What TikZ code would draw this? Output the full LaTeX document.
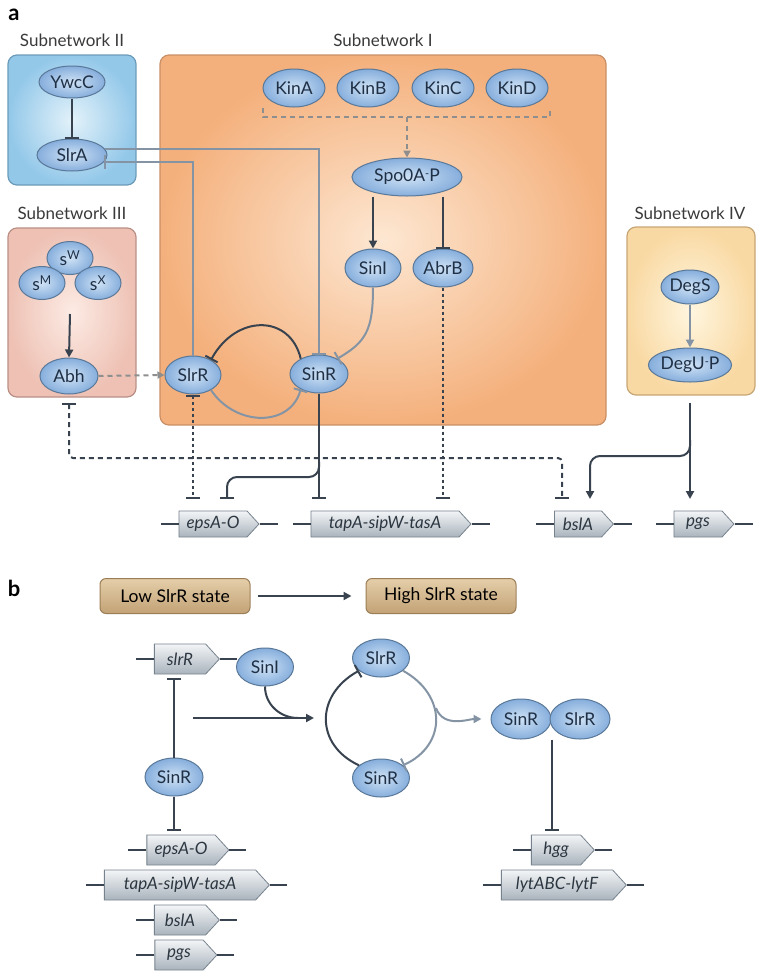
\documentclass[tikz,border=0pt]{standalone}
\usepackage{fontspec}
\setmainfont{Lato}
\usepackage{tikz}
\usetikzlibrary{shapes.geometric}
\usetikzlibrary{shapes.symbols}
\usetikzlibrary{arrows.meta}

\definecolor{protin}{HTML}{CFE2F5}
\definecolor{protout}{HTML}{86AEDC}
\definecolor{protedge}{HTML}{5A7898}
\definecolor{prottext}{HTML}{1F2F44}
\definecolor{genetop}{HTML}{F3F5F7}
\definecolor{genebot}{HTML}{A9B3BC}
\definecolor{geneedge}{HTML}{76828D}
\definecolor{genetext}{HTML}{2C3640}
\definecolor{linedark}{HTML}{38434F}
\definecolor{linegray}{HTML}{8494A4}
\definecolor{dashgray}{HTML}{8E8E8E}
\definecolor{oneA}{HTML}{FDE7D2}
\definecolor{oneB}{HTML}{F4B07C}
\definecolor{oneE}{HTML}{C98F66}
\definecolor{twoA}{HTML}{E3F2FA}
\definecolor{twoB}{HTML}{93C8E9}
\definecolor{twoE}{HTML}{6C9BBA}
\definecolor{threeA}{HTML}{FCEBE4}
\definecolor{threeB}{HTML}{EEC1B4}
\definecolor{threeE}{HTML}{B98F86}
\definecolor{fourA}{HTML}{FFF6DF}
\definecolor{fourB}{HTML}{F9D9A3}
\definecolor{fourE}{HTML}{C7A676}
\definecolor{statetop}{HTML}{E4CEA9}
\definecolor{statebot}{HTML}{C3A276}
\definecolor{stateedge}{HTML}{9B7E56}
\definecolor{titletext}{HTML}{3A3A3A}

\begin{document}
\begin{tikzpicture}[x=1pt,y=-1pt,line width=2pt,
  font=\fontsize{17.5}{19}\selectfont,
  prot/.style={ellipse,draw=protedge,line width=1pt,inner color=protin,outer color=protout,
    text=prottext,inner sep=0pt},
  gene/.style={signal,signal to=east,signal pointer angle=95,draw=geneedge,line width=0.8pt,
    top color=genetop,bottom color=genebot,minimum height=27pt,inner sep=0pt,
    font=\fontsize{17}{19}\selectfont\itshape,text=genetext},
  stub/.style={draw=linedark,line width=2pt},
  netbox/.style={rounded corners=9pt,line width=1.2pt},
  nettitle/.style={text=titletext,font=\fontsize{17}{19}\selectfont},
  statebox/.style={rectangle,rounded corners=6pt,draw=stateedge,line width=1pt,
    top color=statetop,bottom color=statebot,minimum width=150pt,minimum height=35pt},
  act/.style={draw=linedark,-{Triangle[length=8pt,width=8pt]}},
  inh/.style={draw=linedark,-{Bar[width=14pt]}},
  actgray/.style={draw=linegray,-{Triangle[length=8pt,width=8pt]}},
  inhgray/.style={draw=linegray,-{Bar[width=14pt]}},
  kindash/.style={draw=dashgray,dash pattern=on 5pt off 4pt},
  dashinh/.style={draw=linedark,dash pattern=on 5pt off 4pt},
  dotinh/.style={draw=linedark,dash pattern=on 3pt off 3pt}]
\useasboundingbox (0,0) rectangle (763,975);

% ---- panel a ----
\node[font=\fontsize{22}{22}\selectfont\bfseries] (laba) at (14,15) {a};

\path[netbox,draw=twoE,inner color=twoA,outer color=twoB] (8,55) rectangle (136,185);
\path[netbox,draw=oneE,inner color=oneA,outer color=oneB] (160,55) rectangle (606,425);
\path[netbox,draw=threeE,inner color=threeA,outer color=threeB] (8,228) rectangle (136,397);
\path[netbox,draw=fourE,inner color=fourA,outer color=fourB] (627,227) rectangle (755,395);

\node[nettitle] (tii) at (72,40) {Subnetwork II};
\node[nettitle] (ti) at (383,40) {Subnetwork I};
\node[nettitle] (tiii) at (72,213) {Subnetwork III};
\node[nettitle] (tiv) at (690,213) {Subnetwork IV};

\node[prot,minimum width=66pt,minimum height=32pt] (ywcc) at (72,82) {YwcC};
\node[prot,minimum width=70pt,minimum height=32pt] (slra) at (72,155) {SlrA};
\foreach \x/\k in {294/A,368/B,443/C,517/D}
  \node[prot,minimum width=62pt,minimum height=38pt] (kin\k) at (\x,88) {Kin\k};
\node[prot,minimum width=110pt,minimum height=38pt] (spo) at (407,177)
  {Spo0A{\fontsize{11}{11}\selectfont\raisebox{0.7ex}{-}}P};
\node[prot,minimum width=56pt,minimum height=38pt] (sini) at (373,268) {SinI};
\node[prot,minimum width=60pt,minimum height=38pt] (abrb) at (443,268) {AbrB};
\node[prot,minimum width=56pt,minimum height=38pt] (slrr) at (193,375) {SlrR};
\node[prot,minimum width=58pt,minimum height=38pt] (sinr) at (319,374) {SinR};
\node[prot,minimum width=46pt,minimum height=33pt] (sigw) at (70,258) {s\textsuperscript{W}};
\node[prot,minimum width=46pt,minimum height=33pt] (sigm) at (42,283) {s\textsuperscript{M}};
\node[prot,minimum width=46pt,minimum height=33pt] (sigx) at (98,283) {s\textsuperscript{X}};
\node[prot,minimum width=58pt,minimum height=36pt] (abh) at (69,376) {Abh};
\node[prot,minimum width=58pt,minimum height=34pt] (degs) at (690,287) {DegS};
\node[prot,minimum width=76pt,minimum height=34pt] (degu) at (690,365)
  {DegU{\fontsize{11}{11}\selectfont\raisebox{0.7ex}{-}}P};

\node[gene,minimum width=80pt,minimum height=26pt] (epsa) at (213,524) {epsA-O};
\node[gene,minimum width=160pt,minimum height=26pt] (tapa) at (385,524) {tapA-sipW-tasA};
\node[gene,minimum width=59pt,minimum height=26pt] (bsla) at (578,524) {bslA};
\node[gene,minimum width=60pt,minimum height=26pt] (pgsa) at (698,524) {pgs};

\coordinate (rowa) at (0,499);
\coordinate (kinl) at (263,117);
\coordinate (kinr) at (550,117);
\coordinate (abhturn) at (562,458);
\coordinate (sinrbr) at (319,462);
\coordinate (degbr) at (690,440);

\draw[inh] (ywcc.south) -- (slra.north);
\draw[kindash] (263,108) -- (kinl) -- (kinr) -- (550,108);
\draw[kindash,-{Triangle[length=7pt,width=7pt]}] (spo |- kinl) -- (spo.north);
\draw[act] (sini |- spo.south) -- (sini.north);
\draw[inh] (abrb |- spo.south) -- (abrb.north);
\draw[inhgray] (sini.south) .. controls (373,330) and (366,342) .. (sinr.40);
\draw[inhgray] (slra.10) -| (sinr.north);
\draw[inhgray] (slrr.north) |- (slra.-12);
\draw[act] ([yshift=-14pt]sigw |- sigm.south) -- (abh.north);
\draw[kindash,-{Triangle[length=7pt,width=7pt]}] (abh.east) -- (slrr.west);
\draw[inh] (sinr.140) .. controls (290,314) and (236,314) .. (slrr.40);
\draw[inhgray] (slrr.-40) .. controls (236,427) and (290,427) .. (sinr.-140);
\draw[actgray] (degs.south) -- (degu.north);

% to the genes
\draw[dotinh,{Bar[width=14pt]}-{Bar[width=14pt]}] (slrr.south) -- (slrr |- rowa);
\draw[dotinh,-{Bar[width=14pt]}] (abrb.south) -- (abrb |- rowa);
\draw[dashinh,{Bar[width=14pt]}-{Bar[width=14pt]},rounded corners=4pt]
  ([yshift=-8pt]abh.south) |- (abhturn) -- (abhturn |- rowa);
\draw[inh] (sinr.south) -- (sinr |- rowa);
\draw[inh,rounded corners=10pt] (sinrbr) -- (319,477) -- (227,477) -- (227,499);
\draw[act] ([yshift=-20pt]degu.south) -- (degu |- rowa);
\draw[act,rounded corners=10pt] (degbr) -- (690,456) -- (590,456) -- (590,499);

\foreach \g in {epsa,tapa,bsla,pgsa}
  \draw[stub] (\g.west) -- ++(-18,0) (\g.east) -- ++(18,0);

% ---- panel b ----
\node[font=\fontsize{22}{22}\selectfont\bfseries] (labb) at (14,588) {b};

\node[statebox] (low) at (175,596) {Low SlrR state};
\node[statebox] (high) at (441,596) {High SlrR state};
\draw[act,shorten <=7pt,shorten >=14pt] (low.east) -- (high.west);

\node[gene,minimum width=65pt,minimum height=30pt] (slrrg) at (180,659) {slrR};
\node[prot,minimum width=57pt,minimum height=38pt] (sini2) at (265,667) {SinI};
\node[prot,minimum width=57pt,minimum height=38pt] (slrr2) at (381,658) {SlrR};
\node[prot,minimum width=57pt,minimum height=38pt] (sinr2) at (381,778) {SinR};
\node[prot,minimum width=58pt,minimum height=38pt] (sinr3) at (174,777) {SinR};
\node[prot,minimum width=60pt,minimum height=40pt] (cxsinr) at (521,719) {SinR};
\node[prot,minimum width=60pt,minimum height=40pt] (cxslrr) at (580,719) {SlrR};

\node[gene,minimum width=82pt,minimum height=30pt] (epsab) at (181,850) {epsA-O};
\node[gene,minimum width=165pt,minimum height=30pt] (tapab) at (180,885) {tapA-sipW-tasA};
\node[gene,minimum width=65pt,minimum height=30pt] (bslab) at (180,920) {bslA};
\node[gene,minimum width=62pt,minimum height=30pt] (pgsb) at (179,955) {pgs};
\node[gene,minimum width=63pt,minimum height=30pt] (hggb) at (556,850) {hgg};
\node[gene,minimum width=125pt,minimum height=30pt] (lytb) at (557,885) {lytABC-lytF};

\foreach \g in {slrrg,epsab,tapab,bslab,pgsb,hggb,lytb}
  \draw[stub] (\g.west) -- ++(-18,0) (\g.east) -- ++(17,0);

\coordinate (hstart) at (193,718);
\coordinate (hend) at (314,718);
\coordinate (arcmid) at (436,708);

\draw[inh,shorten >=4pt] (sinr3.north) -- (sinr3 |- slrrg.south);
\draw[inh,shorten >=4pt] (sinr3.south) -- (sinr3 |- epsab.north);
\draw[act] (hstart) -- (hend);
\draw[draw=linedark] (sini2.south) to[out=-90,in=180] (298,718);
\draw[inh] (sinr2.150) .. controls (315,745) and (315,695) .. (slrr2.-150);
\draw[inhgray] (slrr2.-30) .. controls (447,695) and (447,745) .. (sinr2.30);
\draw[actgray,shorten >=9pt] (arcmid) to[out=-70,in=180] (cxsinr.west);
\draw[inh,shorten >=4pt] (cxsinr.east |- cxsinr.south) -- (cxsinr.east |- hggb.north);
\end{tikzpicture}
\end{document}
